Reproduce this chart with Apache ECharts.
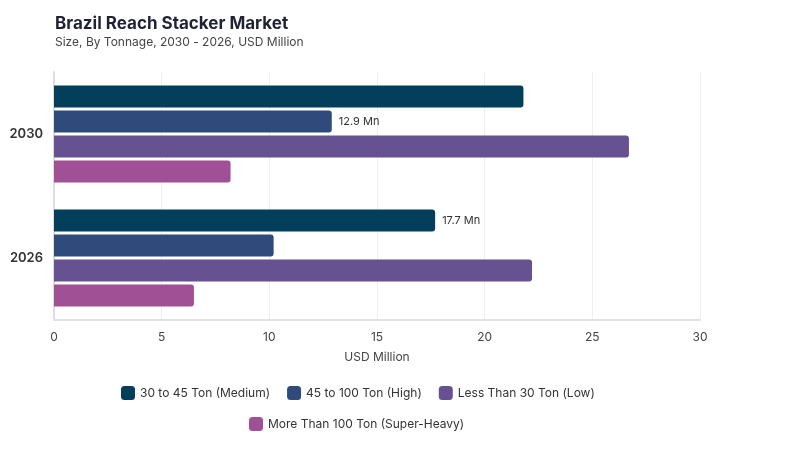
<!DOCTYPE html>
<html><head><meta charset="utf-8">
<script src="https://cdn.jsdelivr.net/npm/echarts@6/dist/echarts.min.js"></script>
<style>html,body{margin:0;padding:0;background:#fff}#c{width:800px;height:450px}</style>
</head><body><div id="c"></div>
<script>
const categories = ['2026', '2030'];
const seriesNames = ['30 to 45 Ton (Medium)', '45 to 100 Ton (High)', 'Less Than 30 Ton (Low)', 'More Than 100 Ton (Super-Heavy)'];
const medium = [17.7, 21.8];
const high = [10.2, 12.9];
const low = [22.2, 26.7];
const superHeavy = [6.5, 8.2];
const colors = ['#033e5b', '#2f4b7c', '#665191', '#a05195'];
const xTicks = [0, 5, 10, 15, 20, 25, 30];
const labelled = {0: [0], 1: [1]}; // series index -> category indices with labels

const allData = [medium, high, low, superHeavy];
const font = 'Inter, "Noto Sans", sans-serif';
const legendBase = {
  itemWidth: 14, itemHeight: 14, itemGap: 17, icon: 'roundRect',
  textStyle: {fontSize: 12, color: '#333', fontFamily: font}
};
const chart = echarts.init(document.getElementById('c'));
chart.setOption({
  animation: false,
  textStyle: {fontFamily: font},
  title: {
    text: 'Brazil Reach Stacker Market',
    subtext: 'Size, By Tonnage, 2030 - 2026, USD Million',
    left: 50, top: 10, itemGap: 4,
    textStyle: {fontSize: 17, fontWeight: 'bold', color: '#1f2235', fontFamily: font},
    subtextStyle: {fontSize: 12, color: '#444', fontFamily: font}
  },
  legend: [
    Object.assign({}, legendBase, {left: 116, top: 381, data: seriesNames.slice(0, 3)}),
    Object.assign({}, legendBase, {left: 244, top: 412, data: seriesNames.slice(3)})
  ],
  grid: {left: 54, right: 100, top: 72, bottom: 130},
  xAxis: {
    type: 'value', min: xTicks[0], max: xTicks[xTicks.length - 1], interval: 5,
    name: 'USD Million', nameLocation: 'middle', nameGap: 31,
    nameTextStyle: {fontSize: 12, color: '#444'},
    axisLabel: {fontSize: 12, color: '#444', margin: 11},
    splitLine: {lineStyle: {color: '#eeeeee'}},
    axisLine: {show: true, lineStyle: {color: '#e2e2e2', width: 2}}, axisTick: {show: false}
  },
  yAxis: {
    type: 'category', data: categories,
    axisLine: {show: true, lineStyle: {color: '#dddddd', width: 2}},
    axisTick: {show: false},
    axisLabel: {fontSize: 13, fontWeight: 600, color: '#333', margin: 11}
  },
  series: seriesNames.map((n, i) => ({
    name: n, type: 'bar', barWidth: 22, barGap: '14%',
    itemStyle: {color: colors[i], borderRadius: [0, 3, 3, 0]},
    data: allData[i].map((v, j) => ({
      value: v,
      label: {show: (labelled[i] || []).includes(j), position: 'right', formatter: v + ' Mn', fontSize: 11, color: '#333', distance: 7}
    }))
  }))
});
</script></body></html>
